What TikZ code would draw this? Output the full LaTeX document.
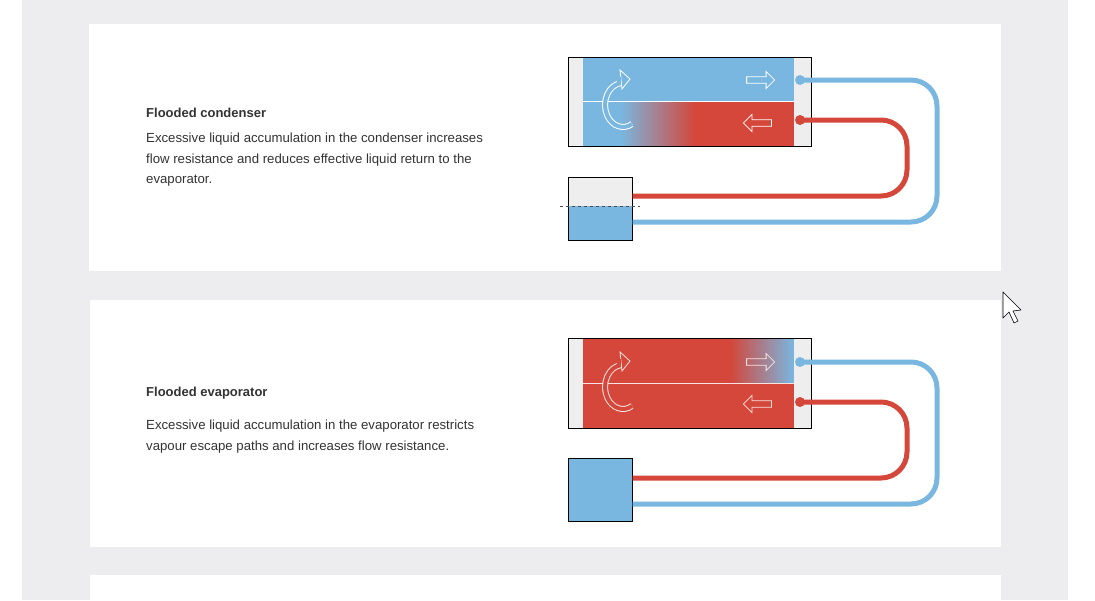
\documentclass[tikz,border=0pt]{standalone}
\usepackage{fontspec}
\setmainfont{Liberation Sans}
\usetikzlibrary{shapes.arrows,arrows.meta}
\definecolor{cblue}{HTML}{79B7E1}
\definecolor{cred}{HTML}{D4473A}
\definecolor{strip}{HTML}{EEEEEE}
\definecolor{panel}{HTML}{EDEDEF}
\definecolor{txt}{HTML}{333333}
\tikzset{
  card/.style={fill=white,draw=none},
  pipeb/.style={cblue,line width=5pt,rounded corners=26pt},
  piper/.style={cred,line width=5pt,rounded corners=26pt},
  blk/.style={single arrow,draw=white,line width=0.8pt,minimum height=28pt,minimum width=17pt,single arrow head extend=4pt,single arrow head indent=0pt,inner sep=2pt},
  ttl/.style={anchor=base west,inner sep=0pt,font=\fontsize{13}{15}\selectfont\bfseries,text=txt},
  body/.style={anchor=north west,font=\fontsize{13.2}{20.5}\selectfont,text=txt,align=left,inner sep=0pt},
}
\begin{document}
\begin{tikzpicture}[x=1pt,y=-1pt]
\useasboundingbox (0,0) rectangle (1095,600);
\fill[white] (0,0) rectangle (1095,600);
\fill[panel] (22,0) rectangle (1068,600);
\fill[card] (89,24) rectangle (1001,271);
\fill[card] (90,300) rectangle (1001,547);
\fill[card] (90,575) rectangle (1001,600);
% cursor
\draw[black,fill=white,line width=0.6pt,line join=round] (1003,292) -- (1003,318) -- (1009,312) -- (1014,323) -- (1018,321) -- (1013,311) -- (1021,310) -- cycle;
\node[ttl] (t1) at (146,117) {Flooded condenser};
\node[body] (b1) at (146,133) {Excessive liquid accumulation in the condenser increases\\flow resistance and reduces effective liquid return to the\\evaporator.};
\node[ttl] (t2) at (146,396) {Flooded evaporator};
\node[body] (b2) at (146,420) {Excessive liquid accumulation in the evaporator restricts\\vapour escape paths and increases flow resistance.};
% ===== diagram 1 =====
\fill[cblue] (583,57) rectangle (794,101);
\fill[cblue] (583,101) rectangle (620,146);
\shade[left color=cblue,right color=cred] (620,101) rectangle (695,146);
\fill[cred] (695,101) rectangle (794,146);
\fill[strip] (568,57) rectangle (583,146);
\fill[strip] (794,57) rectangle (811,146);
\draw[white,line width=0.8pt] (583,101) -- (794,101);
\node[draw=black,line width=0.6pt,minimum width=243pt,minimum height=89pt,anchor=north west,inner sep=0] (cond1) at (568,57) {};
\draw[white,line width=6pt] (632,124) arc (-60:-265:18pt and 22pt);
\draw[cblue,line width=4pt] (632,124) arc (-60:-265:18pt and 22pt);
\draw[white,line width=0.8pt,fill=cblue,line join=miter] (620,70) -- (630,79) -- (622,89) -- cycle;
\fill[cblue] (617,76.5) rectangle (621,83);
\node[blk,fill=cblue,shape border rotate=0] (ar1) at (759,80) {};
\node[blk,fill=cred,shape border rotate=180] (al1) at (759,123) {};
% tank 1
\fill[strip] (568,177) rectangle (632,206);
\fill[cblue] (568,206) rectangle (632,240);
\node[draw=black,line width=0.6pt,minimum width=64pt,minimum height=63pt,anchor=north west,inner sep=0] (tank1) at (568,177) {};
\draw[black!70,dashed,line width=0.7pt] (560,206) -- (640,206);
\coordinate (cb1) at (800,80); \coordinate (cr1) at (800,120);
\draw[pipeb] (cb1) -- (937,80) -- (937,222) -- (tank1.east |- 0,222);
\draw[piper] (cr1) -- (907,120) -- (907,196) -- (tank1.east |- 0,196);
\fill[cblue] (cb1) circle (5pt); \fill[cred] (cr1) circle (5pt);
% ===== diagram 2 =====
\fill[cred] (583,338) rectangle (794,428);
\shade[left color=cred,right color=cblue] (730,338) rectangle (794,383);
\fill[strip] (568,338) rectangle (583,428);
\fill[strip] (794,338) rectangle (811,428);
\draw[white!85!cred,line width=0.8pt] (583,383) -- (794,383);
\node[draw=black,line width=0.6pt,minimum width=243pt,minimum height=90pt,anchor=north west,inner sep=0] (cond2) at (568,338) {};
\draw[white!85!cred,line width=6pt] (632,406) arc (-60:-265:18pt and 22pt);
\draw[cred,line width=4pt] (632,406) arc (-60:-265:18pt and 22pt);
\draw[white!85!cred,line width=0.8pt,fill=cred,line join=miter] (620,352) -- (630,361) -- (622,371) -- cycle;
\fill[cred] (617,358.5) rectangle (621,365);
\node[blk,draw=white!85!cred,fill=none,shape border rotate=0] (ar2) at (759,362) {};
\node[blk,draw=white!85!cred,fill=cred,shape border rotate=180] (al2) at (759,404) {};
\node[draw=black,line width=0.6pt,fill=cblue,minimum width=64pt,minimum height=63pt,anchor=north west,inner sep=0] (tank2) at (568,458) {};
\coordinate (cb2) at (800,362); \coordinate (cr2) at (800,402);
\draw[pipeb] (cb2) -- (937,362) -- (937,504) -- (tank2.east |- 0,504);
\draw[piper] (cr2) -- (907,402) -- (907,478) -- (tank2.east |- 0,478);
\fill[cblue] (cb2) circle (5pt); \fill[cred] (cr2) circle (5pt);
\end{tikzpicture}
\end{document}
